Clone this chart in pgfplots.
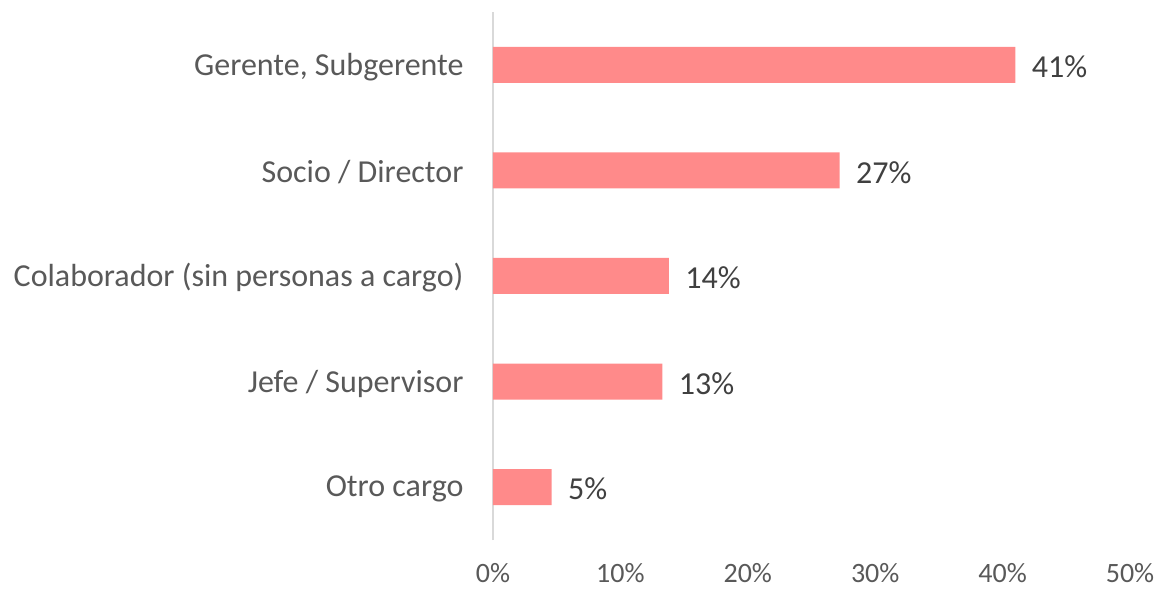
\documentclass[border=0pt]{standalone}
\usepackage{fontspec}
\setmainfont{Carlito}
\usepackage{pgfplots}
\pgfplotsset{compat=1.18}
\definecolor{barc}{HTML}{FF8A8A}
\definecolor{tickc}{HTML}{595959}
\definecolor{labc}{HTML}{404040}
\definecolor{axc}{HTML}{D9D9D9}
\begin{document}
\begin{tikzpicture}
\begin{axis}[
  name=ax,
  scale only axis,
  width=637pt, height=528pt,
  xbar, bar width=36pt,
  xmin=0, xmax=50,
  ymin=-0.5, ymax=4.5,
  ytick={0,1,2,3,4},
  yticklabels={Otro cargo, Jefe / Supervisor, Colaborador (sin personas a cargo), Socio / Director, {Gerente, Subgerente}},
  /pgf/number format/assume math mode=true,
  axis x line=none,
  axis y line*=left,
  y axis line style={draw=axc, line width=1.5pt, -},
  major tick length=0pt,
  yticklabel style={font=\fontsize{32}{38}\selectfont, text=tickc, xshift=-26pt, yshift=-2pt},
  nodes near coords={\pgfmathprintnumber[fixed,precision=0]{\pgfplotspointmeta}\%},
  nodes near coords style={font=\fontsize{32}{38}\selectfont, text=labc, anchor=west, xshift=13pt, yshift=-2pt},
  point meta=x,
  clip=false,
]
\addplot[fill=barc, draw=none] coordinates {(4.6,0) (13.3,1) (13.8,2) (27.2,3) (41.0,4)};
\end{axis}
\begin{axis}[
  scale only axis,
  width=637pt, height=528pt,
  xmin=0, xmax=50, ymin=-0.5, ymax=4.5,
  axis x line*=bottom,
  x axis line style={draw=none},
  axis y line=none,
  xtick={0,10,20,30,40,50},
  xticklabel={\pgfmathprintnumber{\tick}\%},
  /pgf/number format/assume math mode=true,
  major tick length=0pt,
  xticklabel style={font=\fontsize{28}{34}\selectfont, text=tickc, yshift=-20pt},
]
\addplot[draw=none] coordinates {(0,0)};
\end{axis}
\pgfresetboundingbox
\path[use as bounding box] ([shift={(-493pt,-49pt)}]ax.south west) rectangle ([shift={(665pt,540pt)}]ax.south west);
\end{tikzpicture}
\end{document}
